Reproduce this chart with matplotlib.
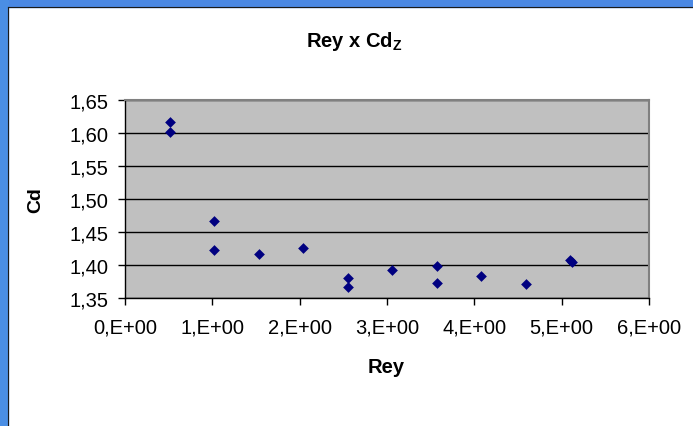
import matplotlib.pyplot as plt
from matplotlib.patches import Rectangle
from matplotlib.ticker import FuncFormatter, MultipleLocator

plt.rcParams['font.family'] = ['Liberation Sans', 'DejaVu Sans']
plt.rcParams['mathtext.fontset'] = 'custom'
plt.rcParams['mathtext.rm'] = 'Liberation Sans'
plt.rcParams['mathtext.bf'] = 'Liberation Sans:bold'

# data
rey = [0.51, 0.51, 1.02, 1.02, 1.53, 2.04, 2.55, 2.55, 3.06, 3.57, 3.57,
       4.08, 4.59, 5.10, 5.12]
cd = [1.616, 1.601, 1.466, 1.422, 1.417, 1.426, 1.380, 1.366, 1.393,
      1.398, 1.372, 1.384, 1.371, 1.408, 1.405]

fig = plt.figure(figsize=(6.93, 4.27), dpi=100)
W, H = 693, 427

# blue frame on top and left
fig.patches.append(Rectangle((0, 1 - 8 / H), 1, 8 / H, transform=fig.transFigure,
                             color='#4a88e4', zorder=0))
fig.patches.append(Rectangle((0, 0), 8 / W, 1, transform=fig.transFigure,
                             color='#4a8ee4', zorder=0))
fig.lines.append(plt.Line2D([8 / W, 1], [1 - 8 / H, 1 - 8 / H], transform=fig.transFigure,
                            color='#1a1a1a', lw=0.8))
fig.lines.append(plt.Line2D([8 / W, 8 / W], [0, 1 - 8 / H], transform=fig.transFigure,
                            color='#1a1a1a', lw=0.8))

ax = fig.add_axes([125 / W, 1 - 299 / H, 524 / W, 198 / H])
ax.set_facecolor('#c0c0c0')
ax.scatter(rey, cd, marker='D', s=30, color='#000080', zorder=3, linewidths=0)

ax.set_xlim(0, 6)
ax.set_ylim(1.35, 1.65)
ax.xaxis.set_major_locator(MultipleLocator(1))
ax.yaxis.set_major_locator(MultipleLocator(0.05))
ax.xaxis.set_major_formatter(FuncFormatter(lambda v, p: f"{int(round(v))},E+00"))
ax.yaxis.set_major_formatter(FuncFormatter(lambda v, p: f"{v:.2f}".replace('.', ',')))
ax.grid(axis='y', color='black', lw=1)
ax.set_axisbelow(True)

ax.tick_params(labelsize=14.5, length=5, width=1, color='black', direction='out')
ax.tick_params(axis='x', pad=9)
ax.tick_params(axis='y', pad=7)

for s in ['top', 'right']:
    ax.spines[s].set_color('#808080')
    ax.spines[s].set_linewidth(1.5)
for s in ['left', 'bottom']:
    ax.spines[s].set_color('black')
    ax.spines[s].set_linewidth(1)

fig.text(354 / W, 1 - 47 / H, r'Rey x Cd$_{\mathbf{Z}}$', ha='center', va='baseline',
         fontsize=14.5, fontweight='bold')
fig.text(36 / W, 1 - 200 / H, 'Cd', ha='center', va='center', rotation=90,
         fontsize=14, fontweight='bold')
fig.text(386 / W, 1 - 373 / H, 'Rey', ha='center', va='baseline',
         fontsize=14.5, fontweight='bold')

fig.savefig('out.png', dpi=100)
